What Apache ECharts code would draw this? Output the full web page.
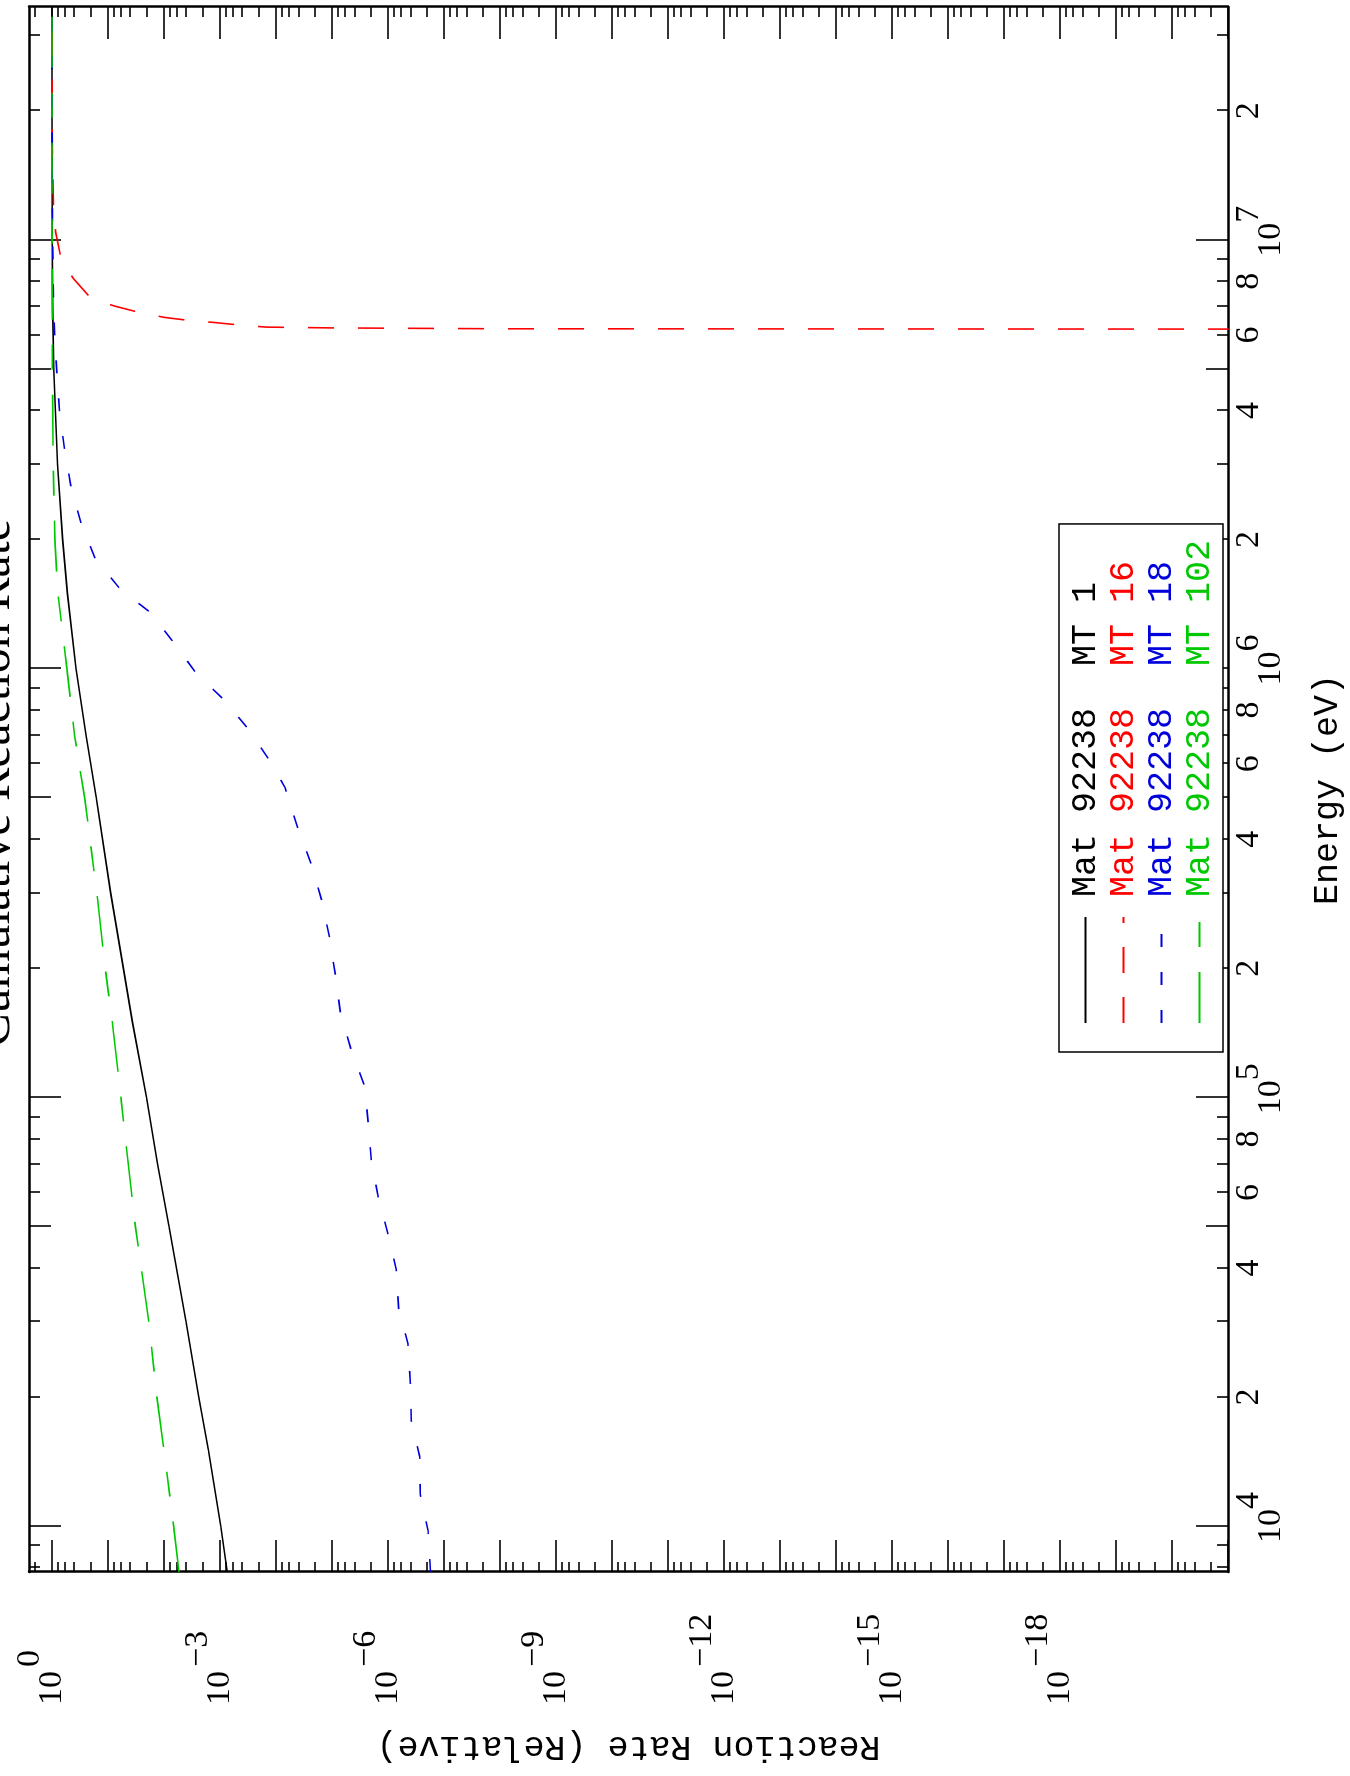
<!DOCTYPE html>
<html>
<head>
<meta charset="utf-8">
<script src="https://cdn.jsdelivr.net/npm/echarts@6/dist/echarts.min.js"></script>
<style>
  html, body { margin: 0; padding: 0; background: #fff; overflow: hidden; }
  #page { position: relative; width: 1350px; height: 1776px; overflow: hidden; background: #fff; }
  /* the plot is drawn in landscape and turned a quarter turn to the left */
  #plot { position: absolute; left: 0; top: 0; width: 1776px; height: 1350px;
          transform-origin: 0 0; transform: translate(0, 1776px) rotate(-90deg); }
</style>
</head>
<body>
<div id="page"><div id="plot"></div></div>
<script>
// ---- data (energy in eV, rate relative) ----
const energyGrid = [7816, 1e4, 1.5e4, 2e4, 3e4, 5e4, 7e4, 1e5, 1.5e5, 2e5, 3e5, 5e5, 7e5,
  1e6, 1.5e6, 2e6, 3e6, 5e6, 7e6, 1e7, 2e7, 3.491e7];
const rateMt1 = [7.41e-4, 9.7e-4, 1.60e-3, 2.39e-3, 4.04e-3, 8.15e-3, 1.30e-2, 2.05e-2, 3.66e-2,
  5.31e-2, 8.95e-2, 0.162, 0.247, 0.372, 0.53, 0.646, 0.794, 0.931, 0.973, 0.99, 0.998, 1];
const rateMt102 = [5.40e-3, 6.71e-3, 1.00e-2, 1.34e-2, 1.87e-2, 3.24e-2, 4.35e-2, 5.87e-2, 8.41e-2,
  0.112, 0.158, 0.261, 0.396, 0.542, 0.785, 0.887, 0.95, 0.982, 0.991, 0.995, 0.999, 1];

const energyMt16 = [6.19e6, 6.2018e6, 6.2304e6, 6.2577e6, 6.3273e6, 6.4138e6, 6.4851e6, 6.5917e6,
  6.7758e6, 6.9984e6, 7.2946e6, 8.147e6, 9.0782e6, 1.0423e7, 1.1749e7, 1.5849e7, 2.2387e7, 3.491e7];
const rateMt16 = [1e-22, 1e-8, 1e-5, 1.51e-4, 4.47e-4, 1.26e-3, 3.55e-3, 9.77e-3,
  2.82e-2, 7.41e-2, 0.20, 0.422, 0.692, 0.861, 0.933, 0.982, 0.995, 1];

const energyMt18 = [7816, 9772, 11858, 14555, 17620, 21677, 26607, 32211, 39628, 47973, 58884,
  71450, 86497, 106170, 128825, 155955, 191426, 234963, 285102, 349945, 423643, 528445, 615177,
  729458, 851138, 977237, 1150800, 1352073, 1531088, 1803018, 2172701, 2630268, 3235937, 3935501,
  4875285, 5942921, 7943282, 12589254, 3.491e7];
const rateMt18 = [1.74e-7, 1.93e-7, 2.65e-7, 2.72e-7, 3.83e-7, 3.99e-7, 4.40e-7, 6.46e-7, 7.10e-7,
  1.0e-6, 1.51e-6, 1.99e-6, 2.24e-6, 2.61e-6, 4.52e-6, 7.0e-6, 8.61e-6, 1.10e-5, 1.49e-5, 2.34e-5,
  4.05e-5, 6.92e-5, 1.35e-4, 3.30e-4, 8.95e-4, 2.69e-3, 6.71e-3, 1.75e-2, 6.03e-2, 0.168, 0.299,
  0.452, 0.594, 0.730, 0.815, 0.895, 0.955, 0.989, 1];

const seriesNames = ['Mat 92238  MT 1', 'Mat 92238  MT 16', 'Mat 92238  MT 18', 'Mat 92238  MT 102'];

// ---- axes ----
const E_MIN = 7816, E_MAX = 3.491e7;
const R_MIN = 1e-21, R_MAX = 2.57;
const energyDecades = [1e4, 1e5, 1e6, 1e7];
const energyMidTicks = [5e4, 5e5, 5e6];
const energyMinorMult = [2, 3, 4, 6, 7, 8, 9];
const energyLabels = [8e3, 1e4, 2e4, 4e4, 6e4, 8e4, 1e5, 2e5, 4e5, 6e5, 8e5, 1e6, 2e6, 4e6, 6e6, 8e6, 1e7, 2e7];
const rateMinorMult = [2, 4, 6, 8];
const rateLabels = [1, 1e-3, 1e-6, 1e-9, 1e-12, 1e-15, 1e-18];

function ticksFor(mults, fromExp, toExp, lo, hi) {
  const out = [];
  for (let k = fromExp; k <= toExp; k++) {
    mults.forEach(m => {
      const v = m * Math.pow(10, k);
      if (v >= lo && v <= hi) out.push(v);
    });
  }
  return out;
}
const energyMinor = ticksFor(energyMinorMult, 3, 7, E_MIN, E_MAX);
const rateDecades = ticksFor([1], -21, 0, R_MIN, R_MAX);
const rateMinor = ticksFor(rateMinorMult, -22, 0, R_MIN, R_MAX);

const serif = '"Liberation Serif", "DejaVu Serif", serif';
const mono = '"Liberation Mono", "DejaVu Sans Mono", monospace';
const black = '#000';

function energyLabel(v) {
  const e = Math.log10(v);
  const k = Math.round(e);
  if (Math.abs(e - k) < 1e-6) return '{b|10}{s|' + k + '}';
  return '{s|' + Math.round(v / Math.pow(10, Math.floor(e + 1e-9))) + '}';
}
function rateLabel(v) {
  const k = Math.round(Math.log10(v));
  return '{b|10}{s|' + (k === 0 ? '0' : '\u2212' + (-k)) + '}';
}

function energyAxis(pos, ticks, len, withLine) {
  return {
    type: 'log', position: pos, min: E_MIN, max: E_MAX,
    axisLine: { show: withLine, onZero: false, lineStyle: { color: black, width: 2.5 } },
    axisTick: { show: true, inside: true, length: len, customValues: ticks, lineStyle: { color: black, width: 1.6 } },
    axisLabel: { show: false }, splitLine: { show: false }, minorTick: { show: false }
  };
}
function rateAxis(pos, ticks, len, withLine) {
  return {
    type: 'log', position: pos, min: R_MIN, max: R_MAX,
    axisLine: { show: withLine, onZero: false, lineStyle: { color: black, width: 2.5 } },
    axisTick: { show: true, inside: true, length: len, customValues: ticks, lineStyle: { color: black, width: 1.6 } },
    axisLabel: { show: false }, splitLine: { show: false }, minorTick: { show: false }
  };
}

const xMain = energyAxis('bottom', energyDecades, 32, true);
xMain.axisLabel = {
  show: true, customValues: energyLabels, formatter: energyLabel, margin: 22,
  fontFamily: serif, fontSize: 34, color: black,
  rich: {
    b: { fontFamily: serif, fontSize: 34, color: black, lineHeight: 21, padding: [22, 0, 0, 17] },
    s: { fontFamily: serif, fontSize: 34, color: black, lineHeight: 21, padding: [0, 0, 22, 0] }
  }
};
xMain.name = 'Energy (eV)';
xMain.nameLocation = 'middle';
xMain.nameGap = 82;
xMain.nameTextStyle = { fontFamily: mono, fontSize: 35, color: black };

const yMain = rateAxis('left', rateDecades, 32, true);
yMain.axisLabel = {
  show: true, customValues: rateLabels, formatter: rateLabel, margin: 133,
  align: 'left', verticalAlign: 'bottom',
  fontFamily: serif, fontSize: 34, color: black,
  rich: {
    b: { fontFamily: serif, fontSize: 34, color: black, lineHeight: 21, padding: [22, 0, 0, 0] },
    s: { fontFamily: serif, fontSize: 34, color: black, lineHeight: 21, padding: [0, 0, 22, 4] }
  }
};
yMain.name = 'Reaction Rate (Relative)';
yMain.nameLocation = 'middle';
yMain.nameRotate = 90;
yMain.nameGap = 157;
yMain.nameTextStyle = { fontFamily: mono, fontSize: 35, color: black };

function pairs(xs, ys) { return xs.map((x, i) => [x, ys[i]]); }

const chart = echarts.init(document.getElementById('plot'), null, { renderer: 'canvas' });
chart.setOption({
  animation: false,
  backgroundColor: '#fff',
  title: {
    text: 'Cumulative Reaction Rate', left: 993, top: -29, padding: 0, textAlign: 'center',
    textStyle: { fontFamily: serif, fontSize: 50, fontWeight: 'normal', color: black }
  },
  grid: { left: 204, right: 7, top: 29, bottom: 122 },
  legend: {
    orient: 'vertical', left: 724, top: 1059, selectedMode: false,
    itemWidth: 106, itemHeight: 14, itemGap: 3,
    itemStyle: { opacity: 0 },
    padding: [9, 16, 6, 28], borderColor: black, borderWidth: 1.5, backgroundColor: '#fff',
    textStyle: { fontFamily: mono, fontSize: 35, padding: [0, 0, 0, 15] },
    data: [
      { name: seriesNames[0], textStyle: { color: '#000000' } },
      { name: seriesNames[1], textStyle: { color: '#ff0000' } },
      { name: seriesNames[2], textStyle: { color: '#0000dd' } },
      { name: seriesNames[3], textStyle: { color: '#00c800' } }
    ]
  },
  xAxis: [
    xMain,
    energyAxis('bottom', energyMidTicks, 22, false),
    energyAxis('bottom', energyMinor, 11, false),
    energyAxis('top', energyDecades, 32, true),
    energyAxis('top', energyMidTicks, 22, false),
    energyAxis('top', energyMinor, 11, false)
  ],
  yAxis: [
    yMain,
    rateAxis('left', rateMinor, 10, false),
    rateAxis('right', rateDecades, 32, true),
    rateAxis('right', rateMinor, 10, false)
  ],
  series: [
    { name: seriesNames[0], type: 'line', data: pairs(energyGrid, rateMt1), symbol: 'none', silent: true,
      itemStyle: { color: '#000000' }, lineStyle: { color: '#000000', width: 1.6, type: 'solid' } },
    { name: seriesNames[1], type: 'line', data: pairs(energyMt16, rateMt16), symbol: 'none', silent: true,
      itemStyle: { color: '#ff0000' }, lineStyle: { color: '#ff0000', width: 1.6, type: [26, 24] } },
    { name: seriesNames[2], type: 'line', data: pairs(energyMt18, rateMt18), symbol: 'none', silent: true,
      itemStyle: { color: '#0000dd' }, lineStyle: { color: '#0000dd', width: 1.6, type: [13, 25] } },
    { name: seriesNames[3], type: 'line', data: pairs(energyGrid, rateMt102), symbol: 'none', silent: true,
      itemStyle: { color: '#00c800' }, lineStyle: { color: '#00c800', width: 1.6, type: [51, 25, 25, 25] } }
  ]
});
</script>
</body>
</html>
